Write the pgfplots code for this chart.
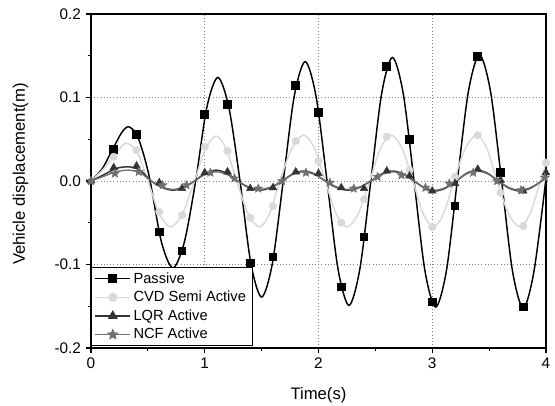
\documentclass[border=0pt]{standalone}
\usepackage{fontspec}
\setmainfont{Liberation Sans}
\usepackage{pgfplots}
\pgfplotsset{compat=1.18}

\definecolor{cvdgray}{HTML}{D9D9D9}
\definecolor{lqrgray}{HTML}{333333}
\definecolor{ncfgray}{HTML}{707070}

% filled five-pointed star
\pgfdeclareplotmark{fstar}{%
  \pgfpathmoveto{\pgfpointpolar{90}{\pgfplotmarksize}}%
  \pgfpathlineto{\pgfpointpolar{126}{0.45\pgfplotmarksize}}%
  \pgfpathlineto{\pgfpointpolar{162}{\pgfplotmarksize}}%
  \pgfpathlineto{\pgfpointpolar{198}{0.45\pgfplotmarksize}}%
  \pgfpathlineto{\pgfpointpolar{234}{\pgfplotmarksize}}%
  \pgfpathlineto{\pgfpointpolar{270}{0.45\pgfplotmarksize}}%
  \pgfpathlineto{\pgfpointpolar{306}{\pgfplotmarksize}}%
  \pgfpathlineto{\pgfpointpolar{342}{0.45\pgfplotmarksize}}%
  \pgfpathlineto{\pgfpointpolar{18}{\pgfplotmarksize}}%
  \pgfpathlineto{\pgfpointpolar{54}{0.45\pgfplotmarksize}}%
  \pgfpathclose
  \pgfusepathqfillstroke
}

\begin{document}
\begin{tikzpicture}
\begin{axis}[
    scale only axis,
    width=341.25pt, height=250.5pt,
    xmin=0, xmax=4, ymin=-0.2, ymax=0.2,
    xtick={0,1,2,3,4},
    ytick={-0.2,-0.1,0,0.1,0.2},
    minor x tick num=1, minor y tick num=1,
    tick pos=left, tick align=outside,
    major tick length=4pt, minor tick length=2.5pt,
    tick style={black, line width=0.8pt},
    axis line style={black, line width=0.9pt},
    xmajorgrids, ymajorgrids,
    major grid style={dotted, gray, line width=0.6pt},
    /pgf/number format/assume math mode=true,
    tick label style={font=\fontsize{11.5}{13}\selectfont},
    yticklabel style={/pgf/number format/.cd, fixed, fixed zerofill, precision=1},
    xlabel={Time(s)},
    ylabel={Vehicle displacement(m)},
    label style={font=\fontsize{12.5}{14}\selectfont},
    xlabel style={at={(axis description cs:0.5,-0.141)}, anchor=center},
    ylabel style={at={(axis description cs:-0.155,0.521)}, anchor=center},
    legend style={at={(0,0.006)}, anchor=south west, draw=black, line width=0.6pt,
      font=\fontsize{11}{13}\selectfont, inner xsep=2.5pt, inner ysep=1.5pt,
      row sep=0.5pt, cells={anchor=west}},
    legend image code/.code={\draw[mark repeat=2,mark phase=2]
      plot coordinates {(0pt,0pt)(13pt,0pt)(26pt,0pt)};},
]

% Passive
\addplot[black, line width=1.1pt, smooth, forget plot] coordinates {
(0,0)(0.1,0.015)(0.19,0.038)(0.27,0.058)(0.33,0.065)(0.40,0.056)(0.46,0.033)(0.52,0)
(0.62,-0.0735)(0.72,-0.104)(0.82,-0.0735)(0.92,0)
(1.0175,0.0877)(1.115,0.124)(1.2125,0.0877)(1.31,0)
(1.405,-0.0983)(1.50,-0.139)(1.595,-0.0983)(1.69,0)
(1.786,0.101)(1.883,0.143)(1.979,0.101)(2.075,0)
(2.171,-0.105)(2.268,-0.149)(2.364,-0.105)(2.46,0)
(2.555,0.1046)(2.65,0.148)(2.745,0.1046)(2.84,0)
(2.935,-0.107)(3.03,-0.151)(3.125,-0.107)(3.22,0)
(3.3175,0.107)(3.415,0.151)(3.5125,0.107)(3.61,0)
(3.705,-0.1075)(3.80,-0.152)(3.895,-0.1075)(4.0,0.003)
};
\addplot[black, line width=1.1pt, mark=square*, mark size=2.7pt, only marks,
  forget plot] coordinates {
(0.2,0.038)(0.4,0.056)(0.6,-0.061)(0.8,-0.084)(1.0,0.080)(1.2,0.092)
(1.4,-0.098)(1.6,-0.091)(1.8,0.114)(2.0,0.082)(2.2,-0.127)(2.4,-0.067)
(2.6,0.137)(2.8,0.050)(3.0,-0.145)(3.2,-0.030)(3.4,0.149)(3.6,0.010)(3.8,-0.151)
};

% CVD Semi Active
\addplot[cvdgray, line width=1.1pt, smooth, forget plot] coordinates {
(0,0)(0.1,0.013)(0.2,0.029)(0.30,0.045)(0.40,0.036)(0.50,0)
(0.60,-0.039)(0.70,-0.055)(0.805,-0.039)(0.91,0)
(1.005,0.038)(1.10,0.054)(1.19,0.038)(1.28,0)
(1.38,-0.039)(1.48,-0.055)(1.57,-0.039)(1.66,0)
(1.765,0.039)(1.87,0.055)(1.965,0.039)(2.06,0)
(2.155,-0.039)(2.25,-0.055)(2.35,-0.039)(2.45,0)
(2.545,0.039)(2.64,0.055)(2.735,0.039)(2.83,0)
(2.92,-0.039)(3.01,-0.055)(3.10,-0.039)(3.19,0)
(3.29,0.039)(3.39,0.055)(3.48,0.039)(3.57,0)
(3.67,-0.039)(3.77,-0.055)(3.86,-0.039)(3.95,0)(4.0,0.022)
};
\addplot[cvdgray, mark=*, mark size=2.8pt, only marks, forget plot] coordinates {
(0.2,0.029)(0.4,0.037)(0.6,-0.037)(0.8,-0.041)(1.0,0.041)(1.2,0.036)
(1.4,-0.044)(1.6,-0.030)(1.8,0.048)(2.0,0.024)(2.2,-0.050)(2.4,-0.022)
(2.6,0.053)(2.8,0.013)(3.0,-0.055)(3.2,0.005)(3.4,0.055)(3.6,-0.014)
(3.8,-0.054)(4.0,0.022)
};

% LQR Active
\addplot[lqrgray, line width=1.1pt, smooth, forget plot] coordinates {
(0,0)(0.12,0.008)(0.22,0.015)(0.33,0.017)(0.43,0.013)(0.53,0)
(0.625,-0.0078)(0.72,-0.011)(0.815,-0.0078)(0.91,0)
(1.005,0.0092)(1.10,0.013)(1.195,0.0092)(1.29,0)
(1.3875,-0.0078)(1.485,-0.011)(1.5825,-0.0078)(1.68,0)
(1.775,0.0085)(1.87,0.012)(1.965,0.0085)(2.06,0)
(2.16,-0.0078)(2.26,-0.011)(2.36,-0.0078)(2.46,0)
(2.555,0.0085)(2.65,0.012)(2.745,0.0085)(2.84,0)
(2.9325,-0.0085)(3.025,-0.012)(3.1175,-0.0085)(3.21,0)
(3.3025,0.0092)(3.395,0.013)(3.4875,0.0092)(3.58,0)
(3.675,-0.0085)(3.77,-0.012)(3.865,-0.0085)(3.96,0)(4.0,0.006)
};
\addplot[lqrgray, mark=triangle*, mark size=3.3pt, only marks, forget plot] coordinates {
(0,0)(0.2,0.016)(0.4,0.018)(0.6,-0.002)(0.8,-0.009)(1.0,0.010)(1.2,0.011)
(1.4,-0.009)(1.6,-0.008)(1.8,0.011)(2.0,0.009)(2.2,-0.008)(2.4,-0.009)
(2.6,0.012)(2.8,0.006)(3.0,-0.012)(3.2,-0.003)(3.4,0.014)(3.6,0.001)
(3.8,-0.012)(4.0,0.010)
};

% NCF Active
\addplot[ncfgray, line width=1pt, smooth, forget plot] coordinates {
(0,0)(0.12,0.006)(0.22,0.011)(0.33,0.013)(0.43,0.010)(0.53,0)
(0.625,-0.0071)(0.72,-0.010)(0.815,-0.0071)(0.91,0)
(1.005,0.0078)(1.10,0.011)(1.195,0.0078)(1.29,0)
(1.3875,-0.0071)(1.485,-0.010)(1.5825,-0.0071)(1.68,0)
(1.775,0.0078)(1.87,0.011)(1.965,0.0078)(2.06,0)
(2.16,-0.0071)(2.26,-0.010)(2.36,-0.0071)(2.46,0)
(2.555,0.0078)(2.65,0.011)(2.745,0.0078)(2.84,0)
(2.9325,-0.0078)(3.025,-0.011)(3.1175,-0.0078)(3.21,0)
(3.3025,0.0085)(3.395,0.012)(3.4875,0.0085)(3.58,0)
(3.675,-0.0078)(3.77,-0.011)(3.865,-0.0078)(3.96,0)(4.0,0.005)
};
\addplot[ncfgray, mark=fstar, mark size=3.4pt, only marks, forget plot] coordinates {
(0,0)(0.21,0.009)(0.42,0.011)(0.63,-0.005)(0.84,-0.005)(1.05,0.010)(1.26,0.003)
(1.47,-0.009)(1.68,0)(1.89,0.010)(2.10,-0.002)(2.31,-0.009)(2.52,0.005)
(2.73,0.007)(2.94,-0.008)(3.15,-0.003)(3.36,0.010)(3.57,0)(3.78,-0.011)(3.99,0.004)
};

\addlegendimage{black, line width=1.1pt, mark=square*, mark size=2.7pt}
\addlegendentry{Passive}
\addlegendimage{cvdgray, line width=1.1pt, mark=*, mark size=2.8pt}
\addlegendentry{CVD Semi Active}
\addlegendimage{lqrgray, line width=1.1pt, mark=triangle*, mark size=3.3pt}
\addlegendentry{LQR Active}
\addlegendimage{ncfgray, line width=1pt, mark=fstar, mark size=3.4pt}
\addlegendentry{NCF Active}
\end{axis}
\pgfresetboundingbox
\path[use as bounding box] (-68.25pt,-42.75pt) rectangle (348pt,261pt);
\end{tikzpicture}
\end{document}
